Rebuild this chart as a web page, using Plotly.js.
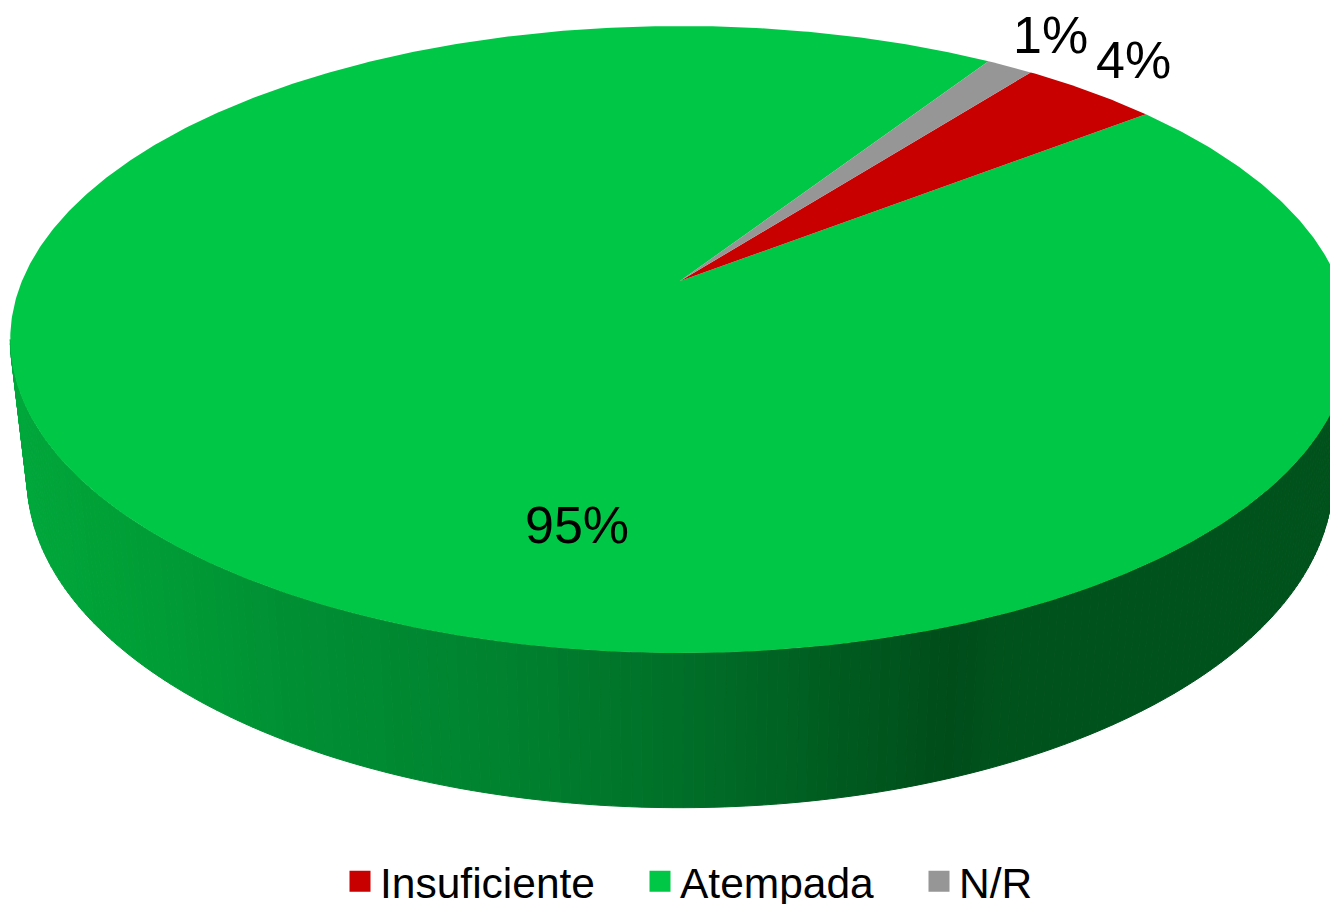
<!DOCTYPE html>
<html>
<head>
<meta charset="utf-8">
<script src="https://cdn.plot.ly/plotly-3.0.1.min.js"></script>
<style>html,body{margin:0;padding:0;background:#fff;overflow:hidden}#chart{width:1330px;height:904px}</style>
</head>
<body>
<div id="chart"></div>
<script>
// Data
const categories = ['Insuficiente', 'Atempada', 'N/R'];
const shares = [4, 94.65, 1.35];
const sliceColors = ['#C80000', '#00C846', '#969696'];

// Rim shading, by horizontal position
const shadeStops = [0, 100, 300, 500, 680, 950, 1000, 1330];
const shadeColors = [[0,168,60],[0,161,55],[0,142,51],[0,130,47],[0,111,40],[0,77,26],[0,82,28],[0,82,28]];

// Projection of the tilted disc (perspective)
const tilt = 0.1866;
const topFace = {cx: 680, cy: 281, rx: 658, ry: 302.6};
const baseFace = {cx: 680, cy: 416, rx: 641.5, ry: 318.6};
const firstAngle = 37.7;    // degrees clockwise from the back of the disc

function project(face, deg) {
  const a = deg * Math.PI / 180;
  const sx = Math.sin(a), t = -Math.cos(a);
  const w = 1 - tilt * t;
  return [face.cx + face.rx * sx / w, face.cy + face.ry * t / w];
}
function shade(x) {
  let i = 0;
  while (i < shadeStops.length - 2 && x > shadeStops[i + 1]) i++;
  const f = Math.min(1, Math.max(0, (x - shadeStops[i]) / (shadeStops[i + 1] - shadeStops[i])));
  const c = shadeColors[i].map((v, k) => Math.round(v + (shadeColors[i + 1][k] - v) * f));
  return `rgb(${c[0]},${c[1]},${c[2]})`;
}

const traces = [];
const poly = (xs, ys, color, line) => ({
  type: 'scatter', mode: 'lines', x: xs, y: ys, fill: 'toself', fillcolor: color,
  line: line ? {color: color, width: 1} : {width: 0}, showlegend: false, hoverinfo: 'skip'
});

// Side wall, one strip per step around the front of the disc
for (let d = 101; d < 259; d += 0.75) {
  const a = project(topFace, d), b = project(topFace, d + 0.75);
  const c = project(baseFace, d + 0.75), e = project(baseFace, d);
  traces.push(poly([a[0], b[0], c[0], e[0], a[0]], [a[1], b[1], c[1], e[1], a[1]], shade((a[0] + b[0]) / 2), true));
}

// Top face: slices follow from the shares
let start = firstAngle;
const order = [1, 0, 2];
const spans = shares.map(v => v * 3.6);
const starts = [];
shares.forEach((v, i) => { starts[i] = start; start += spans[i]; });
order.forEach(i => {
  const xs = [topFace.cx], ys = [topFace.cy];
  const n = Math.max(8, Math.ceil(spans[i] / 0.5));
  for (let j = 0; j <= n; j++) {
    const p = project(topFace, starts[i] + spans[i] * j / n);
    xs.push(p[0]); ys.push(p[1]);
  }
  xs.push(topFace.cx); ys.push(topFace.cy);
  traces.push(poly(xs, ys, sliceColors[i], false));
});

// Legend entries
const legendNames = ['legend', 'legend2', 'legend3'];
categories.forEach((name, i) => {
  traces.push({
    type: 'scatter', mode: 'markers', x: [null], y: [null], name: name, legend: legendNames[i],
    marker: {symbol: 'square', size: 16, color: sliceColors[i], line: {color: sliceColors[i], width: 5}},
    hoverinfo: 'skip'
  });
});

const legendLeft = [340, 640, 919];
const legendStyle = i => ({
  x: legendLeft[i] / 1330, xanchor: 'left', y: 1 - 847 / 904, yanchor: 'top',
  orientation: 'h', bgcolor: 'rgba(0,0,0,0)', borderwidth: 0, itemwidth: 30,
  font: {family: 'Liberation Sans, Arial, sans-serif', size: 42.5, color: '#000'}
});

const labelPos = [[1133, 60], [577, 525], [1050, 35]];
const annotations = shares.map((v, i) => ({
  xref: 'x', yref: 'y', x: labelPos[i][0], y: labelPos[i][1], showarrow: false,
  text: Math.round(v) + '%', xanchor: 'center', yanchor: 'middle',
  font: {family: 'Liberation Sans, Arial, sans-serif', size: 52, color: '#000'}
}));

const layout = {
  width: 1330, height: 904, margin: {l: 0, r: 0, t: 0, b: 0, autoexpand: false},
  paper_bgcolor: '#fff', plot_bgcolor: '#fff', hovermode: false, showlegend: true,
  xaxis: {range: [0, 1330], visible: false, fixedrange: true},
  yaxis: {range: [904, 0], visible: false, fixedrange: true},
  legend: legendStyle(0), legend2: legendStyle(1), legend3: legendStyle(2),
  annotations: annotations
};
Plotly.newPlot('chart', traces, layout, {displayModeBar: false, staticPlot: true});
</script>
</body>
</html>
